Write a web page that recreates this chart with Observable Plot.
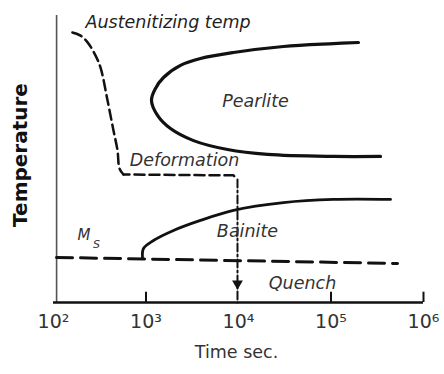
<!DOCTYPE html>
<html>
<head>
<meta charset="utf-8">
<script src="https://cdn.jsdelivr.net/npm/d3@7"></script>
<script src="https://cdn.jsdelivr.net/npm/@observablehq/plot@0.6"></script>
<style>
  html, body { margin: 0; padding: 0; background: #fff; }
</style>
</head>
<body>
<div id="chart"></div>
<script>
// ---- data (time in seconds, temperature in arbitrary 0-100 units) ----
const tickValues = [1e2, 1e3, 1e4, 1e5, 1e6];
const tickLabels = ["10²", "10³", "10⁴", "10⁵", "10⁶"];
const tickMarks = [1e3, 1e5, 1e6];

const pearliteTime = [198000, 106400, 30600, 8830, 3880, 2360, 1547, 1267, 1146, 1332, 1840, 3265, 7610, 20600, 106400, 343000];
const pearliteTemp = [90.6, 90.2, 89.2, 87.1, 85.0, 82.6, 78.4, 74.6, 70.4, 65.2, 60.6, 56.4, 53.3, 51.6, 50.9, 50.9];

const bainiteTime = [916, 940, 1205, 1983, 3880, 8830, 30600, 106400, 440000];
const bainiteTemp = [15.7, 18.8, 21.6, 25.1, 28.6, 32.1, 34.8, 35.9, 35.9];

const coolingTime = [160, 196, 239, 284, 322, 384, 445, 492, 517, 571];
const coolingTemp = [94.1, 93.0, 90.2, 86.1, 81.9, 70.4, 59.9, 53.0, 46.7, 44.6];

const holdTime = [571, 8830, 9750];
const holdTemp = [44.6, 44.3, 42.9];

const quenchTime = [9750, 9750];
const quenchTemp = [42.9, 0];
const arrowTime = [9750];
const arrowTemp = [6.6];

const msTime = [108, 524000];
const msTemp = [15.7, 13.6];

const yAxisTime = 108;

const labelText = ["Pearlite", "Deformation", "Bainite", "Quench"];
const labelTime = [15280, 2610, 12500, 49200];
const labelTemp = [70.0, 49.5, 24.7, 6.6];

const titleText = ["Austenitizing temp"];
const titleTime = [222];
const titleTemp = [97.6];

const msMain = ["M"];
const msMainTime = [182];
const msMainTemp = [23.3];
const msSub = ["S"];
const msSubTime = [268];
const msSubTemp = [20.2];

// ---- build tables ----
const zip = (xs, ys) => xs.map((x, i) => ({x, y: ys[i]}));
const pts = (ts, xs, ys) => ts.map((t, i) => ({t, x: xs[i], y: ys[i]}));
const pearlite = zip(pearliteTime, pearliteTemp);
const bainite = zip(bainiteTime, bainiteTemp);
const cooling = zip(coolingTime, coolingTemp);
const hold = zip(holdTime, holdTemp);
const quench = zip(quenchTime, quenchTemp);
const ms = zip(msTime, msTemp);
const tickMap = new Map(tickValues.map((v, i) => [v, tickLabels[i]]));

const italic = {fontFamily: "DejaVu Sans", fontStyle: "italic", fontSize: 17.5};

const chart = Plot.plot({
  width: 444,
  height: 374,
  marginLeft: 53,
  marginRight: 21,
  marginTop: 15,
  marginBottom: 72,
  style: {fontFamily: "DejaVu Sans", background: "#fff"},
  x: {type: "log", domain: [1e2, 1e6]},
  y: {domain: [0, 100], axis: null},
  marks: [
    // axes lines
    Plot.ruleX([yAxisTime], {y1: 0, y2: 100, stroke: "#555", strokeWidth: 1.6}),
    Plot.ruleY([0], {x1: 1e2, x2: 1e6, stroke: "#111", strokeWidth: 2.5}),
    Plot.ruleX(tickMarks, {y1: 0, y2: 3.6, stroke: "#111", strokeWidth: 2}),
    Plot.axisX({
      ticks: tickValues,
      tickFormat: d => tickMap.get(d),
      tickSize: 0,
      tickPadding: 12,
      fontSize: 19,
      fill: "#333",
      label: null
    }),
    Plot.text(["Time sec."], {frameAnchor: "bottom", dy: 55, dx: -2, fontSize: 17.5, fill: "#333"}),
    Plot.text(["Temperature"], {frameAnchor: "left", textAnchor: "middle", rotate: -90, dx: -33, dy: -4, fontSize: 20, fontWeight: "bold", fill: "#111"}),
    // curves
    Plot.line(pearlite, {x: "x", y: "y", curve: "catmull-rom", stroke: "#111", strokeWidth: 3.2}),
    Plot.line(bainite, {x: "x", y: "y", curve: "catmull-rom", stroke: "#111", strokeWidth: 2.8}),
    Plot.line(ms, {x: "x", y: "y", stroke: "#111", strokeWidth: 3, strokeDasharray: "16,8"}),
    Plot.line(cooling, {x: "x", y: "y", curve: "catmull-rom", stroke: "#111", strokeWidth: 2.5, strokeDasharray: "10,5"}),
    Plot.line(hold, {x: "x", y: "y", stroke: "#111", strokeWidth: 2.5, strokeDasharray: "10,5", strokeDashoffset: 4}),
    Plot.line(quench, {x: "x", y: "y", stroke: "#111", strokeWidth: 2, strokeDasharray: "8,3,2,3"}),
    Plot.dot(zip(arrowTime, arrowTemp), {x: "x", y: "y", symbol: "triangle", r: 4, rotate: 180, fill: "#111", stroke: null}),
    // labels
    Plot.text(pts(titleText, titleTime, titleTemp), {x: "x", y: "y", text: "t", ...italic, fill: "#222", textAnchor: "start"}),
    Plot.text(pts(labelText, labelTime, labelTemp), {x: "x", y: "y", text: "t", ...italic, fill: "#333", textAnchor: "middle"}),
    Plot.text(pts(msMain, msMainTime, msMainTemp), {x: "x", y: "y", text: "t", fontFamily: "DejaVu Sans", fontStyle: "italic", fontSize: 15, fill: "#333", textAnchor: "start"}),
    Plot.text(pts(msSub, msSubTime, msSubTemp), {x: "x", y: "y", text: "t", fontFamily: "DejaVu Sans", fontStyle: "italic", fontSize: 11, fill: "#333", textAnchor: "start"})
  ]
});
document.getElementById("chart").appendChild(chart);
</script>
</body>
</html>
